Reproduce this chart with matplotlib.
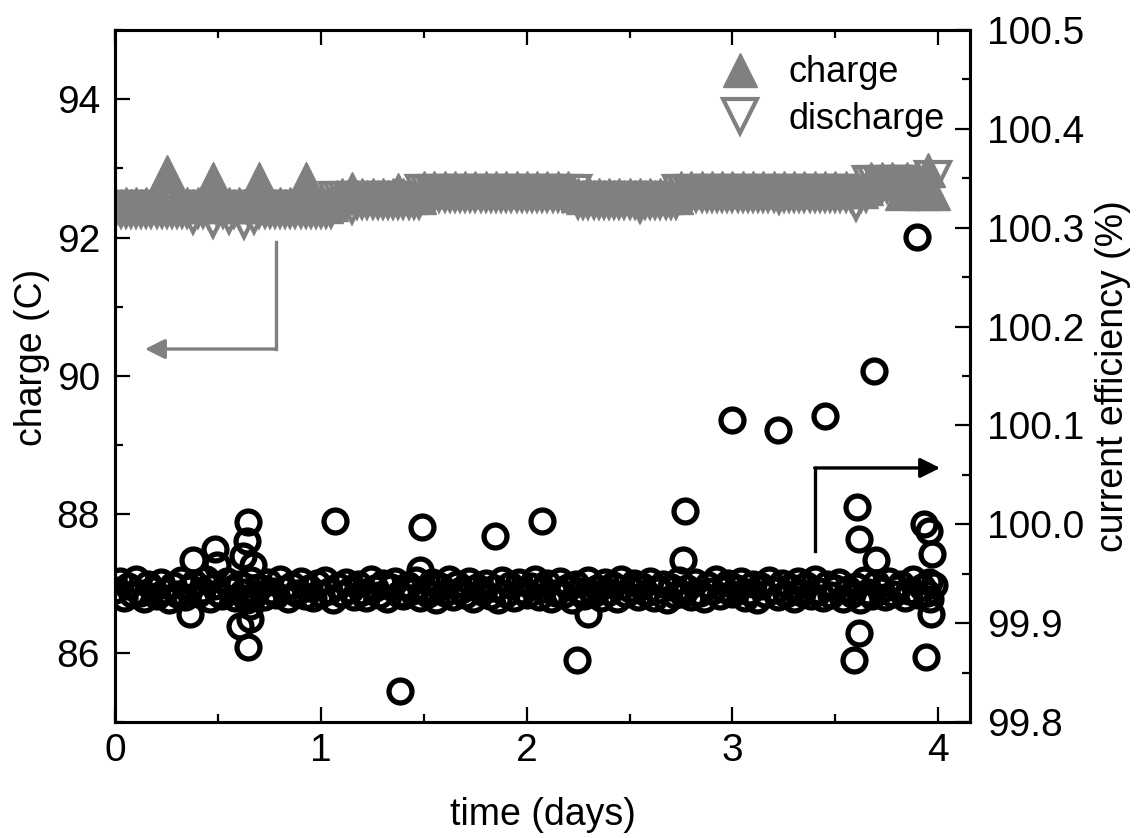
import numpy as np
import matplotlib.pyplot as plt
from matplotlib.ticker import MultipleLocator, FormatStrFormatter

plt.rcParams['font.family'] = ['Liberation Sans', 'DejaVu Sans']
plt.rcParams['font.size'] = 27

GRAY = '#808080'

# charge / discharge per cycle (C), sampled every 0.025 days
charge = [
    92.49, 92.45, 92.49, 92.45, 92.49, 92.45, 92.49, 92.45, 92.49, 92.45,
    92.95, 92.45, 92.49, 92.45, 92.49, 92.45, 92.49, 92.45, 92.49, 92.85,
    92.49, 92.45, 92.49, 92.45, 92.49, 92.45, 92.49, 92.45, 92.85, 92.45,
    92.49, 92.45, 92.49, 92.45, 92.49, 92.45, 92.49, 92.85, 92.49, 92.45,
    92.49, 92.45, 92.49, 92.58, 92.62, 92.58, 92.70, 92.58, 92.62, 92.58,
    92.62, 92.58, 92.62, 92.58, 92.62, 92.69, 92.62, 92.58, 92.62, 92.58,
    92.72, 92.68, 92.72, 92.68, 92.72, 92.68, 92.72, 92.68, 92.72, 92.68,
    92.72, 92.68, 92.72, 92.68, 92.72, 92.68, 92.72, 92.68, 92.72, 92.68,
    92.72, 92.68, 92.72, 92.68, 92.72, 92.68, 92.72, 92.68, 92.72, 92.68,
    92.62, 92.58, 92.66, 92.58, 92.62, 92.58, 92.62, 92.58, 92.62, 92.58,
    92.62, 92.58, 92.62, 92.58, 92.62, 92.58, 92.62, 92.58, 92.62, 92.58,
    92.72, 92.68, 92.72, 92.68, 92.72, 92.68, 92.72, 92.68, 92.72, 92.68,
    92.72, 92.68, 92.72, 92.68, 92.72, 92.68, 92.72, 92.68, 92.72, 92.68,
    92.72, 92.68, 92.72, 92.68, 92.72, 92.68, 92.72, 92.68, 92.72, 92.68,
    92.72, 92.68, 92.72, 92.68, 92.72, 92.68, 92.72, 92.85, 92.81, 92.85,
    92.81, 92.85, 92.81, 92.64, 92.85, 92.81, 92.85, 92.64, 92.98, 92.64,
]
discharge = [
    92.42, 92.42, 92.42, 92.42, 92.42, 92.42, 92.42, 92.42, 92.42, 92.42,
    92.42, 92.42, 92.42, 92.42, 92.42, 92.32, 92.42, 92.42, 92.42, 92.27,
    92.42, 92.42, 92.32, 92.42, 92.42, 92.26, 92.42, 92.33, 92.42, 92.42,
    92.42, 92.42, 92.42, 92.42, 92.42, 92.42, 92.42, 92.42, 92.42, 92.42,
    92.42, 92.42, 92.42, 92.55, 92.55, 92.55, 92.47, 92.55, 92.55, 92.55,
    92.55, 92.55, 92.55, 92.55, 92.55, 92.55, 92.55, 92.55, 92.55, 92.55,
    92.65, 92.65, 92.65, 92.65, 92.65, 92.65, 92.65, 92.65, 92.65, 92.65,
    92.65, 92.65, 92.65, 92.65, 92.65, 92.65, 92.65, 92.65, 92.65, 92.65,
    92.65, 92.65, 92.65, 92.65, 92.65, 92.65, 92.65, 92.65, 92.65, 92.65,
    92.55, 92.55, 92.55, 92.55, 92.55, 92.55, 92.55, 92.55, 92.55, 92.55,
    92.55, 92.55, 92.48, 92.55, 92.55, 92.55, 92.55, 92.55, 92.55, 92.55,
    92.65, 92.65, 92.65, 92.65, 92.65, 92.65, 92.65, 92.65, 92.65, 92.65,
    92.65, 92.65, 92.65, 92.65, 92.65, 92.65, 92.65, 92.65, 92.65, 92.61,
    92.65, 92.65, 92.65, 92.65, 92.65, 92.65, 92.65, 92.65, 92.65, 92.65,
    92.65, 92.65, 92.65, 92.65, 92.51, 92.65, 92.65, 92.78, 92.78, 92.78,
    92.78, 92.78, 92.78, 92.78, 92.78, 92.78, 92.78, 92.78, 92.78, 92.84,
]
# current efficiency (%), sampled every 0.02 days
efficiency = [
    99.934, 99.943, 99.925, 99.938, 99.929, 99.945, 99.931, 99.924, 99.940, 99.935,
    99.927, 99.942, 99.933, 99.923, 99.939, 99.930, 99.944, 99.926, 99.936, 99.941,
    99.929, 99.934, 99.945, 99.924, 99.938, 99.931, 99.927, 99.943, 99.935, 99.925,
    99.940, 99.932, 99.923, 99.944, 99.930, 99.937, 99.926, 99.942, 99.933, 99.928,
    99.945, 99.935, 99.924, 99.939, 99.931, 99.943, 99.927, 99.936, 99.925, 99.941,
    99.930, 99.944, 99.933, 99.923, 99.938, 99.929, 99.942, 99.934, 99.926, 99.940,
    99.932, 99.925, 99.945, 99.936, 99.928, 99.941, 99.924, 99.937, 99.943, 99.930,
    99.927, 99.939, 99.933, 99.944, 99.925, 99.935, 99.929, 99.942, 99.923, 99.938,
    99.931, 99.945, 99.926, 99.940, 99.934, 99.928, 99.943, 99.924, 99.937, 99.932,
    99.941, 99.927, 99.936, 99.923, 99.944, 99.930, 99.939, 99.925, 99.942, 99.933,
    99.928, 99.938, 99.945, 99.926, 99.935, 99.941, 99.924, 99.931, 99.943, 99.929,
    99.937, 99.923, 99.940, 99.933, 99.927, 99.944, 99.930, 99.936, 99.925, 99.942,
    99.932, 99.939, 99.924, 99.945, 99.929, 99.935, 99.941, 99.926, 99.938, 99.931,
    99.943, 99.925, 99.934, 99.940, 99.923, 99.937, 99.928, 99.944, 99.930, 99.936,
    99.926, 99.942, 99.931, 99.924, 99.939, 99.933, 99.945, 99.927, 99.935, 99.941,
    99.929, 99.936, 99.943, 99.925, 99.932, 99.940, 99.923, 99.938, 99.930, 99.944,
    99.934, 99.926, 99.941, 99.929, 99.937, 99.924, 99.943, 99.931, 99.939, 99.927,
    99.945, 99.933, 99.925, 99.940, 99.928, 99.936, 99.942, 99.924, 99.935, 99.930,
    99.938, 99.923, 99.944, 99.932, 99.927, 99.941, 99.934, 99.926, 99.943, 99.929,
    99.936, 99.940, 99.925, 99.933, 99.945, 99.928, 99.937, 99.931, 99.924, 99.939,
]
# scattered efficiency points off the main band
outlier_days = [0.377, 0.362, 0.483, 0.493, 0.644, 0.638, 0.620, 0.668, 0.654,
                0.654, 0.605, 0.644, 1.066, 1.489, 1.480, 1.382, 1.844, 2.072,
                2.296, 2.242, 2.767, 2.758, 3.000, 3.220, 3.450, 3.690, 3.608,
                3.617, 3.700, 3.617, 3.593, 3.933, 3.957, 3.972, 3.957, 3.947,
                3.966, 3.942, 3.895]
outlier_eff = [99.964, 99.909, 99.975, 99.959, 100.002, 99.983, 99.968, 99.959,
               99.917, 99.904, 99.897, 99.876, 100.003, 99.997, 99.954, 99.831,
               99.988, 100.003, 99.909, 99.863, 100.013, 99.964, 100.105,
               100.095, 100.110, 100.155, 100.017, 99.985, 99.964, 99.890,
               99.863, 100.000, 99.993, 99.970, 99.942, 99.931, 99.909, 99.866,
               100.291]

days = np.arange(len(charge)) * 0.025
eff_days = np.arange(len(efficiency)) * 0.02

fig = plt.figure(figsize=(11.39, 8.38), dpi=100)
ax = fig.add_axes([0.1014, 0.1384, 0.7502, 0.8258])
ax2 = ax.twinx()

l_dis, = ax.plot(days, discharge, linestyle='none', marker='v', ms=25,
                 mfc='white', mec=GRAY, mew=3.0, label='discharge', zorder=2)
l_ch, = ax.plot(days, charge, linestyle='none', marker='^', ms=25,
                mfc=GRAY, mec=GRAY, mew=1, label='charge', zorder=3)
ax2.plot(eff_days, efficiency, linestyle='none', marker='o', ms=16.5,
         mfc='none', mec='black', mew=3.8)
ax2.plot(outlier_days, outlier_eff, linestyle='none', marker='o', ms=16.5,
         mfc='none', mec='black', mew=3.8)

# arrows pointing to the axis of each series
ax.plot([0.78, 0.78], [91.94, 90.39], color=GRAY, lw=2.4)
ax.annotate('', xy=(0.143, 90.39), xytext=(0.78, 90.39),
            arrowprops=dict(arrowstyle='-|>', color=GRAY, lw=2.4,
                            mutation_scale=30, shrinkA=0, shrinkB=0))
ax2.plot([3.40, 3.40], [99.973, 100.057], color='black', lw=2.4)
ax2.annotate('', xy=(4.01, 100.057), xytext=(3.40, 100.057),
             arrowprops=dict(arrowstyle='-|>', color='black', lw=2.4,
                             mutation_scale=30, shrinkA=0, shrinkB=0))

ax.set_xlim(0, 4.155)
ax.set_ylim(85, 95)
ax2.set_ylim(99.8, 100.5)

ax.set_xticks([0, 1, 2, 3, 4])
ax.xaxis.set_minor_locator(MultipleLocator(0.5))
ax.set_yticks([86, 88, 90, 92, 94])
ax.yaxis.set_minor_locator(MultipleLocator(1))
ax2.set_yticks([99.8, 99.9, 100.0, 100.1, 100.2, 100.3, 100.4, 100.5])
ax2.yaxis.set_minor_locator(MultipleLocator(0.05))
ax2.yaxis.set_major_formatter(FormatStrFormatter('%.1f'))

ax.tick_params(which='both', direction='in', top=True, right=False, width=1.6,
               labelsize=28)
ax.tick_params(which='major', length=11)
ax.tick_params(which='minor', length=6)
ax.tick_params(axis='y', pad=11)
ax.tick_params(axis='x', pad=8)
ax2.tick_params(which='both', direction='in', width=1.6, labelsize=28)
ax2.tick_params(which='major', length=11, pad=12)
ax2.tick_params(which='minor', length=6)
for a in (ax, ax2):
    for s in a.spines.values():
        s.set_linewidth(2.2)

ax.set_xlabel('time (days)')
ax.set_ylabel('charge (C)')
ax2.set_ylabel('current efficiency (%)')
ax.xaxis.set_label_coords(0.5, -0.108)
ax.yaxis.set_label_coords(-0.0767, 0.527)
ax2.yaxis.set_label_coords(1.146, 0.5)

ax2.legend([l_ch, l_dis], ['charge', 'discharge'], loc='upper right',
           frameon=False, handlelength=1.0, handletextpad=0.85,
           labelspacing=0.32, borderaxespad=0.3, fontsize=26)

fig.savefig('out.png', dpi=100)
